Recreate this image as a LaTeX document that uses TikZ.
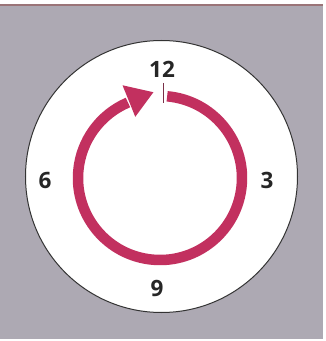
\documentclass[tikz,border=0pt]{standalone}
\usepackage{fontspec}
\setmainfont{Open Sans}
\usetikzlibrary{calc}
\definecolor{bggray}{HTML}{ADA9B3}
\definecolor{ringred}{HTML}{C2305F}
\definecolor{topline}{HTML}{9A7478}
\definecolor{tickcol}{HTML}{7A3048}
\tikzset{
  num/.style={font=\fontsize{22.5}{22.5}\selectfont\bfseries, text=black!85, inner sep=0pt},
  ring/.style={draw=ringred, line width=10.5pt},
}
\begin{document}
\begin{tikzpicture}[x=1pt,y=1pt]
\useasboundingbox (0,0) rectangle (326,341);
\fill[bggray] (0,0) rectangle (326,341);
\fill[white] (0,337) rectangle (326,341);
\fill[topline] (0,335) rectangle (326,337);
\fill[white] (323,0) rectangle (326,341);
\fill[white] (0,0) rectangle (326,1.5);
% clock face
\coordinate (face) at (161.5,164.5);
\filldraw[fill=white, draw=black!80, line width=1pt] (face) circle[radius=136];
% ring
\coordinate (rc) at (160,163);
\draw[ring] ($(rc)+(85:82)$) arc[start angle=85, end angle=-247, radius=82];
\coordinate (b1) at ($(rc)+(112:66)$);
\coordinate (b2) at ($(rc)+(112:100)$);
\coordinate (tip) at ($(rc)+(112:82)+(22:26)$);
\fill[ringred] (b1) -- (b2) -- (tip) -- cycle;
% tick
\coordinate (t1) at (163.5,258);
\coordinate (t2) at (163.5,238);
\draw[tickcol, line width=1.1pt] (t1) -- (t2);
% numbers
\node[num] (n12) at (162,272) {12};
\node[num] (n3) at (267,161) {3};
\node[num] (n6) at (45,161) {6};
\node[num] (n9) at (157,53) {9};
\end{tikzpicture}
\end{document}
